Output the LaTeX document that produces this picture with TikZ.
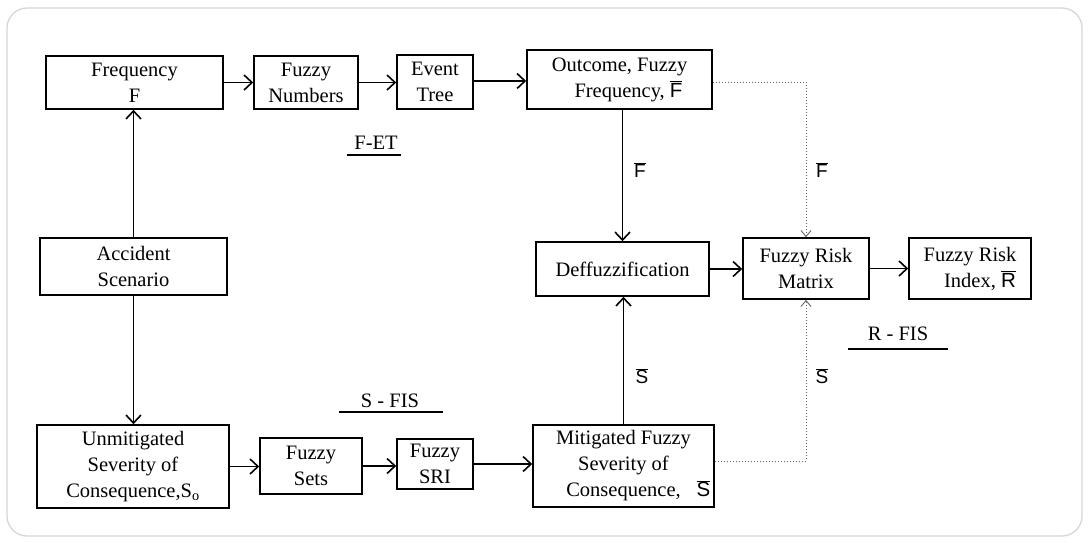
\documentclass[tikz,border=0pt]{standalone}
\usepackage{fontspec}
\setmainfont{Liberation Serif}
\newfontfamily\sansf{Liberation Sans}
\usetikzlibrary{arrows.meta}
\newcommand\ovl[1]{$\overline{\mbox{\sansf #1}}$}
\begin{document}
\begin{tikzpicture}[x=1pt,y=-1pt,
  box/.style={draw, line width=1.6pt, align=center, inner sep=0pt,
    font=\fontsize{20.5}{26}\selectfont},
  arr/.style={line width=1.6pt, -{Straight Barb[length=8pt,width=15pt,line width=1.6pt]}},
  dot/.style={black!60, line width=1pt, dotted, -{Straight Barb[length=6pt,width=10pt,line width=0.9pt]}},
  lbl/.style={font=\fontsize{20.5}{26}\selectfont, inner sep=0pt},
  barlbl/.style={font=\fontsize{19}{22}\selectfont, inner sep=0pt}]
\useasboundingbox (0,0) rectangle (1089,542);
\draw[rounded corners=20pt, draw=black!16, line width=1.3pt] (7,8) rectangle (1082,536);

% boxes
\node[box, minimum width=177pt, minimum height=53pt] (freq) at (134.5,82.5) {Frequency\\F};
\node[box, minimum width=104pt, minimum height=53pt] (fnum) at (306,82.5) {Fuzzy\\Numbers};
\node[box, minimum width=76pt, minimum height=54pt] (etree) at (435,82) {Event\\Tree};
\node[box, minimum width=185pt, minimum height=59pt] (outc) at (619.5,79.5) {Outcome, Fuzzy\\\hspace*{18pt}Frequency, \ovl{F}};
\node[box, minimum width=187pt, minimum height=57pt] (acc) at (133.5,266.5) {Accident\\Scenario};
\node[box, minimum width=192pt, minimum height=83pt] (unmit) at (133,466.5) {Unmitigated\\Severity of\\Consequence,S$_{\mathrm{o}}$};
\node[box, minimum width=102pt, minimum height=56pt] (fsets) at (311,466) {Fuzzy\\Sets};
\node[box, minimum width=76pt, minimum height=50pt] (fsri) at (435,464) {Fuzzy\\SRI};
\node[box, minimum width=181pt, minimum height=82pt] (mitig) at (623.5,466) {Mitigated Fuzzy\\Severity of\\Consequence,\rlap{\hspace{16pt}\ovl{S}}};
\node[box, minimum width=173pt, minimum height=54pt] (deff) at (622.5,269) {Deffuzzification};
\node[box, minimum width=126pt, minimum height=61pt] (matrix) at (806,268.5) {Fuzzy Risk\\Matrix};
\node[box, minimum width=122pt, minimum height=61pt] (index) at (970,268.5) {Fuzzy Risk\\\hspace*{20pt}Index, \ovl{R}};

% solid connectors
\draw[arr] (freq.east) -- (freq.east -| fnum.west);
\draw[arr] (fnum.east) -- (fnum.east -| etree.west);
\draw[arr] ([yshift=1pt]etree.east) -- ([yshift=1pt]etree.east -| outc.west);
\draw[arr] (acc.north) -- (acc.north |- freq.south);
\draw[arr] (acc.south) -- (acc.south |- unmit.north);
\draw[arr] (unmit.east) -- (unmit.east -| fsets.west);
\draw[arr] (fsets.east) -- (fsets.east -| fsri.west);
\draw[arr] (fsri.east) -- (fsri.east -| mitig.west);
\draw[arr] (deff.north |- outc.south) -- (deff.north);
\draw[arr] (mitig.north) -- (mitig.north |- deff.south);
\draw[arr] (deff.east) -- (deff.east -| matrix.west);
\draw[arr] (matrix.east) -- (index.west);

% dotted connectors
\draw[dot] ([yshift=-2.5pt]outc.east) -| (matrix.north);
\draw[dot] ([yshift=5pt]mitig.east) -| (matrix.south);

% connector labels
\node[barlbl] (lf1) at (640,170) {\ovl{F}};
\node[barlbl] (lf2) at (822,170) {\ovl{F}};
\node[barlbl] (ls1) at (642,376) {\ovl{S}};
\node[barlbl] (ls2) at (822,376) {\ovl{S}};

% section labels
\node[lbl] (fet) at (376,143) {F-ET};
\draw[line width=1.1pt] (347,155) -- (401,155);
\node[lbl] (sfis) at (390,401) {S - FIS};
\draw[line width=1.1pt] (339,412) -- (443,412);
\node[lbl] (rfis) at (898,334) {R - FIS};
\draw[line width=1.1pt] (848,349) -- (948,349);
\end{tikzpicture}
\end{document}
